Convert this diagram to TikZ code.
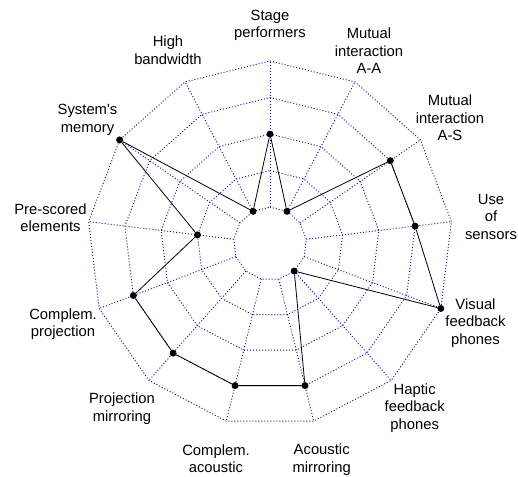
\documentclass[tikz,border=0pt]{standalone}
\usepackage{fontspec}
\setmainfont{Liberation Sans}
\begin{document}
\begin{tikzpicture}[x=1pt,y=1pt,
  grid/.style={draw={rgb,255:red,10;green,10;blue,140}, line width=0.9pt, dash pattern=on 1pt off 2pt},
  dataline/.style={draw=black, line width=0.8pt},
  datapt/.style={circle, fill=black, inner sep=0pt, minimum size=7pt},
  lbl/.style={align=center, font=\fontsize{14.8}{17.5}\selectfont, inner sep=0pt}]
\useasboundingbox (0,0) rectangle (518,476);
\def\U{36.54}
\begin{scope}[shift={(270,232.3)}]
  \foreach \k in {0,...,12}{
    \draw[grid] ({90-\k*360/13}:\U) -- ({90-\k*360/13}:{5*\U});
  }
  \foreach \l in {1,...,5}{
    \draw[grid] (90:{\l*\U}) \foreach \k in {1,...,12}{ -- ({90-\k*360/13}:{\l*\U}) } -- cycle;
  }
  \foreach \v [count=\i from 0] in {3,1,4,4,5,1,4,4,4,4,2,5,1}{
    \node[datapt] (d\i) at ({90-\i*360/13}:{\v*\U}) {};
  }
  \draw[dataline] (d0) -- (d1) -- (d2) -- (d3) -- (d4) -- (d5) -- (d6) -- (d7)
    -- (d8) -- (d9) -- (d10) -- (d11) -- (d12) -- (d0);
\end{scope}
\node[lbl] (l0) at (270,450.7) {Stage\\performers};
\node[lbl] (l1) at (369,425.1) {Mutual\\interaction\\A-A};
\node[lbl] (l2) at (450,358.1) {Mutual\\interaction\\A-S};
\node[lbl] (l3) at (491,259.1) {Use\\of\\sensors};
\node[lbl] (l4) at (475.5,153.3) {Visual\\feedback\\phones};
\node[lbl] (l5) at (414.7,68.3) {Haptic\\feedback\\phones};
\node[lbl] (l6) at (321.7,16.1) {Acoustic\\mirroring};
\node[lbl] (l7) at (216,17.5) {Complem.\\acoustic};
\node[lbl] (l8) at (122,67.2) {Projection\\mirroring};
\node[lbl] (l9) at (63,152) {Complem.\\projection};
\node[lbl] (l10) at (50.5,258.5) {Pre-scored\\elements};
\node[lbl] (l11) at (87.5,356.3) {System\textquotesingle s\\memory};
\node[lbl] (l12) at (168,426) {High\\bandwidth};
\end{tikzpicture}
\end{document}
